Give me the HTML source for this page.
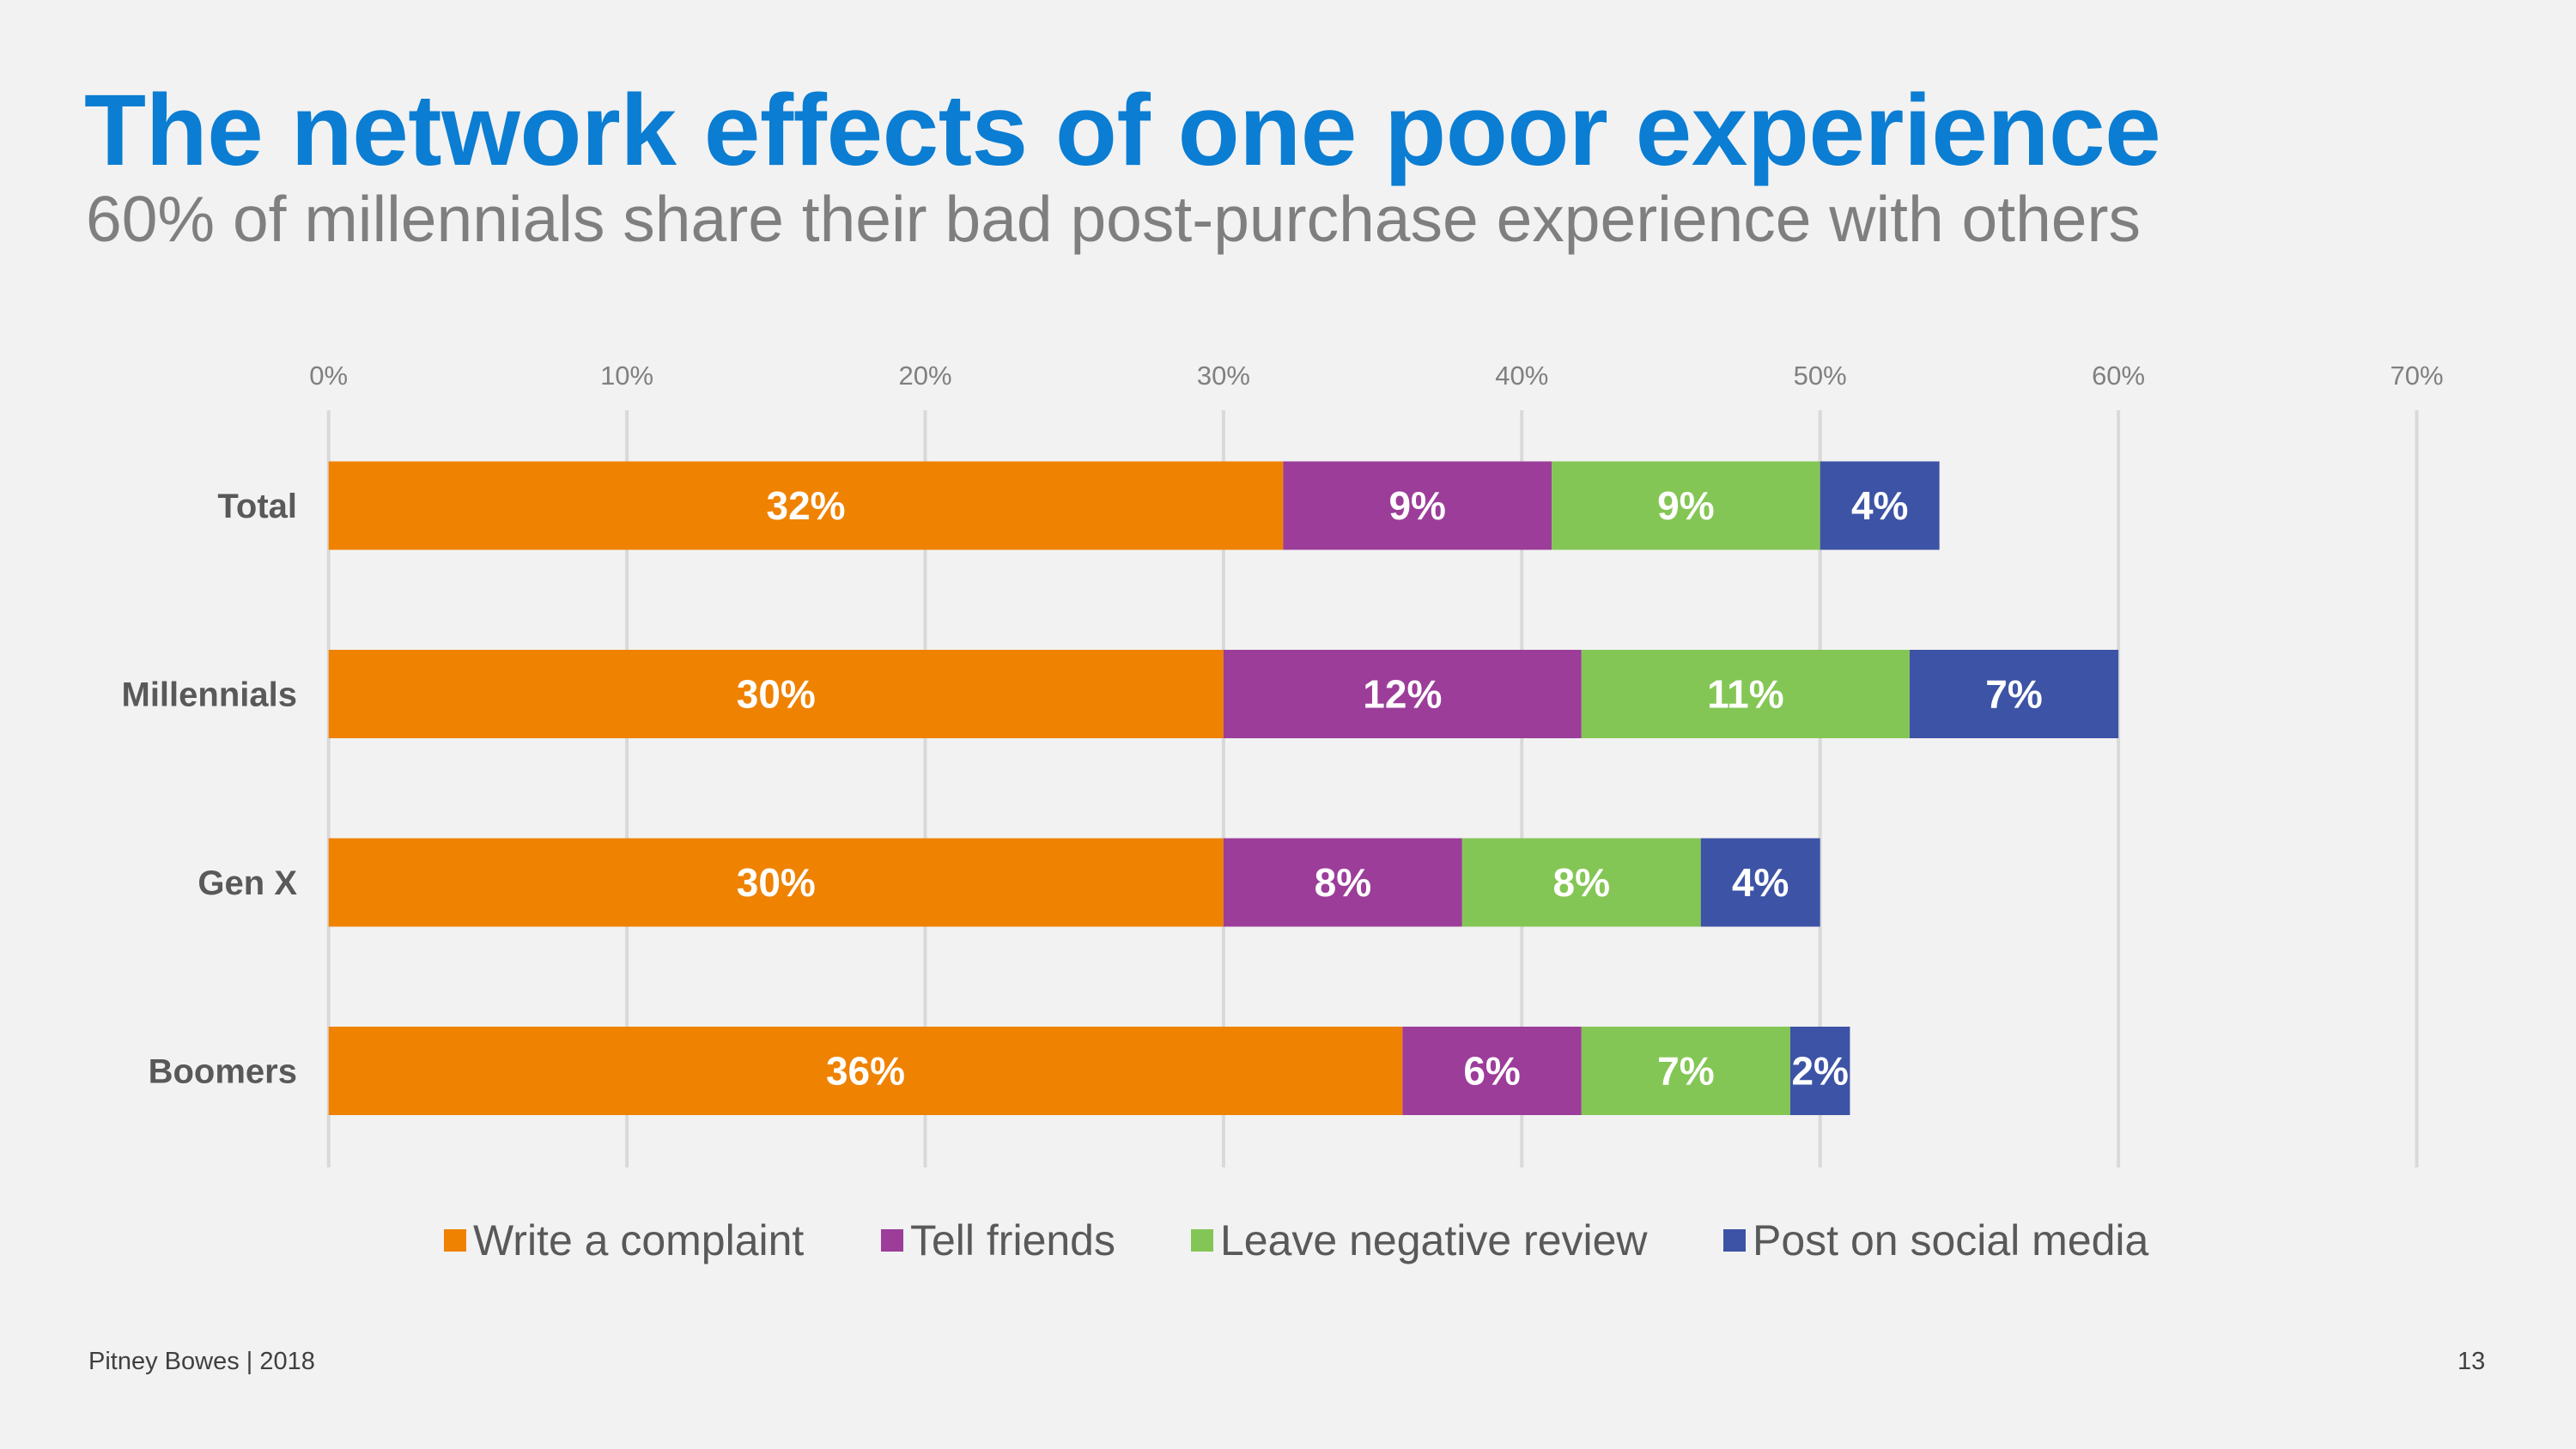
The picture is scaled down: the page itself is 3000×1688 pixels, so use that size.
<!DOCTYPE html>
<html><head><meta charset="utf-8"><style>
html,body{margin:0;padding:0;background:#f2f2f2;}
body{width:3000px;height:1688px;position:relative;overflow:hidden;font-family:"Liberation Sans",Arial,sans-serif;}
.t{position:absolute;white-space:nowrap;}
</style></head><body>
<div class="t" style="left:98px;top:84px;font-size:118px;font-weight:bold;color:#0b7dd2;letter-spacing:-0.5px;">The network effects of one poor experience</div>
<div class="t" style="left:100px;top:212px;font-size:75px;color:#7f7f7f;">60% of millennials share their bad post-purchase experience with others</div>
<svg id="chart" width="3000" height="1688" style="position:absolute;left:0;top:0" xmlns="http://www.w3.org/2000/svg"></svg>
<div class="t" style="left:103px;top:1570px;font-size:29px;color:#404040;">Pitney Bowes | 2018</div>
<div class="t" style="left:2862px;top:1570px;font-size:29px;color:#404040;">13</div>
<script>
const categories = ["Total","Millennials","Gen X","Boomers"];
const seriesNames = ["Write a complaint","Tell friends","Leave negative review","Post on social media"];
const complaint = [32,30,30,36];
const friends = [9,12,8,6];
const review = [9,11,8,7];
const social = [4,7,4,2];
const ticks = [0,10,20,30,40,50,60,70];
const colors = ["#ef8200","#9c3d9a","#84c655","#3d53a5"];
const series=[complaint,friends,review,social];
const svg=document.getElementById('chart');
const NS='http://www.w3.org/2000/svg';
const x0=382.7,x70=2814.5;
const xs=v=>x0+(x70-x0)*v/70;
const yc=i=>589+i*219.5;
const bh=103;
function mk(tag,attrs,txt){const e=document.createElementNS(NS,tag);for(const k in attrs)e.setAttribute(k,attrs[k]);if(txt!=null)e.textContent=txt;svg.appendChild(e);return e;}
ticks.forEach(t=>{
  const g=mk('line',{x1:xs(t),x2:xs(t),y1:478,y2:1360,stroke:'#d9d9d9','stroke-width':4});
  
  
  const l=mk('text',{x:xs(t),y:448,'text-anchor':'middle','font-size':31,fill:'#808080'},t+'%');
  
  
});
categories.forEach((c,i)=>{
  const l=mk('text',{x:346,y:yc(i)+14,'text-anchor':'end','font-size':40,'font-weight':'bold',fill:'#595959'},c);
  
  
  let acc=0;
  series.forEach((s,j)=>{
    const v=s[i];
    const r=mk('rect',{x:xs(acc),y:yc(i)-bh/2,width:xs(acc+v)-xs(acc),height:bh,fill:colors[j]});
    
    
    const tx=mk('text',{x:(xs(acc)+xs(acc+v))/2,y:yc(i)+16,'text-anchor':'middle','font-size':46,'font-weight':'bold',fill:'#fff'},v+'%');
    
    
    acc+=v;
  });
});
const lx=[517,1026,1387,2007];
seriesNames.forEach((n,j)=>{
  const r=mk('rect',{x:lx[j],y:1432,width:26,height:26,fill:colors[j]});
  
  
  const t=mk('text',{x:lx[j]+34,y:1462,'font-size':50,fill:'#595959'},n);
  
  
});
</script>
</body></html>
